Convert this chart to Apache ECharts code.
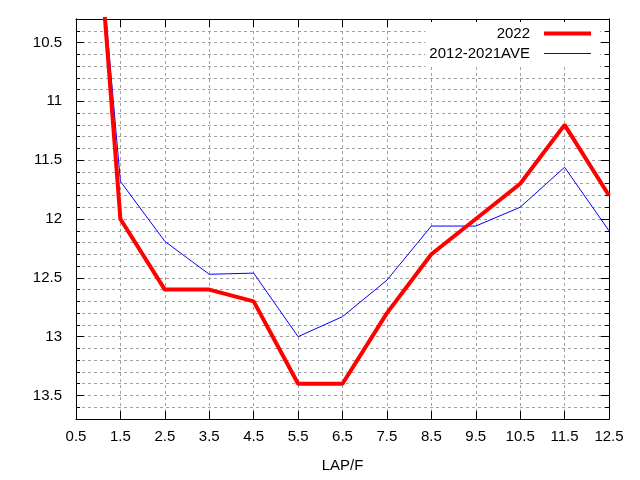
<!DOCTYPE html>
<html>
<head>
<meta charset="utf-8">
<script src="https://cdn.jsdelivr.net/npm/echarts@6/dist/echarts.min.js"></script>
<style>
html,body{margin:0;padding:0;background:#fff;}
#chart{width:640px;height:480px;}
</style>
</head>
<body>
<div id="chart"></div>
<script>
var laps = [0.5, 1.5, 2.5, 3.5, 4.5, 5.5, 6.5, 7.5, 8.5, 9.5, 10.5, 11.5, 12.5];
var times2022 = [7.1, 12.0, 12.6, 12.6, 12.7, 13.4, 13.4, 12.8, 12.3, 12.0, 11.7, 11.2, 11.8];
var timesAve = [7.4, 11.68, 12.19, 12.47, 12.46, 13.0, 12.83, 12.52, 12.06, 12.06, 11.9, 11.56, 12.1];
var yMajorTicks = [10.5, 11, 11.5, 12, 12.5, 13, 13.5];
var seriesNames = ['2022', '2012-2021AVE'];

function pairs(xs, ys) { return xs.map(function (x, i) { return [x, ys[i]]; }); }

var YMIN = 10.3, YMAX = 13.7;
var font = 'Liberation Sans, Arial, sans-serif';
var gridLine = { show: true, lineStyle: { color: '#a0a0a0', type: [3, 3], width: 1 } };

function yAx(pos, minor, labels) {
  return {
    type: 'value', inverse: true, min: YMIN, max: YMAX, interval: 0.1,
    position: pos, gridIndex: 0,
    axisLine: { show: true, onZero: false, lineStyle: { color: '#000', width: 1 } },
    axisTick: minor
      ? { show: true, inside: true, length: 4, lineStyle: { color: '#000' } }
      : { show: true, inside: true, length: 8, customValues: yMajorTicks, lineStyle: { color: '#000' } },
    axisLabel: labels
      ? { show: true, customValues: yMajorTicks, margin: 14, color: '#000', fontSize: 15, fontFamily: font,
          formatter: function (v) { return String(Math.round(v * 10) / 10); } }
      : { show: false },
    splitLine: (minor && pos === 'left') ? gridLine : { show: false }
  };
}

var option = {
  animation: false,
  backgroundColor: '#fff',
  grid: { left: 76, right: 31, top: 19, bottom: 61, containLabel: false, outerBoundsMode: 'none' },
  xAxis: [
    {
      type: 'value', min: 0.5, max: 12.5, interval: 1, position: 'bottom',
      name: 'LAP/F', nameLocation: 'middle', nameGap: 39,
      nameTextStyle: { color: '#000', fontSize: 15, fontFamily: font },
      axisLine: { show: true, onZero: false, lineStyle: { color: '#000' } },
      axisTick: { show: true, inside: true, length: 8, lineStyle: { color: '#000' } },
      axisLabel: { color: '#000', fontSize: 15, fontFamily: font, margin: 10,
        formatter: function (v) { return (Math.round(v * 10) / 10).toFixed(1); } },
      splitLine: gridLine
    },
    {
      type: 'value', min: 0.5, max: 12.5, interval: 1, position: 'top',
      axisLine: { show: true, onZero: false, lineStyle: { color: '#000' } },
      axisTick: { show: true, inside: true, length: 8, lineStyle: { color: '#000' } },
      axisLabel: { show: false },
      splitLine: { show: false }
    }
  ],
  yAxis: [
    yAx('left', true, true),
    yAx('left', false, false),
    yAx('right', true, false),
    yAx('right', false, false)
  ],
  legend: {
    orient: 'vertical', right: 40, top: 22, align: 'right',
    backgroundColor: '#fff', padding: [4, 9, 6, 4], itemGap: 5,
    itemWidth: 47, itemHeight: 14, symbolKeepAspect: true,
    data: [
      { name: seriesNames[0], icon: 'path://M0,0L47,0L47,4L0,4Z',
        itemStyle: { color: '#ff0000', borderWidth: 0, borderColor: '#ff0000' } },
      { name: seriesNames[1], icon: 'path://M0,0L47,0L47,1.2L0,1.2Z',
        itemStyle: { color: '#0000ff', borderWidth: 0, borderColor: '#0000ff' } }
    ],
    formatter: function (name) { return '{t|' + name + '}'; },
    textStyle: {
      color: '#000', fontSize: 15, fontFamily: font,
      rich: { t: { width: 120, align: 'right', padding: [0, 9, 0, 0], fontSize: 15, fontFamily: font, color: '#000' } }
    }
  },
  series: [
    {
      name: seriesNames[0], type: 'line', xAxisIndex: 0, yAxisIndex: 0,
      data: pairs(laps, times2022), showSymbol: false, symbol: 'none', clip: true,
      lineStyle: { color: '#ff0000', width: 4 }, itemStyle: { color: '#ff0000' }, z: 4
    },
    {
      name: seriesNames[1], type: 'line', xAxisIndex: 0, yAxisIndex: 0,
      data: pairs(laps, timesAve), showSymbol: false, symbol: 'none', clip: true,
      lineStyle: { color: '#0000ff', width: 1 }, itemStyle: { color: '#0000ff' }, z: 3
    }
  ]
};

var chart = echarts.init(document.getElementById('chart'), null, { renderer: 'canvas' });
chart.setOption(option);
</script>
</body>
</html>
